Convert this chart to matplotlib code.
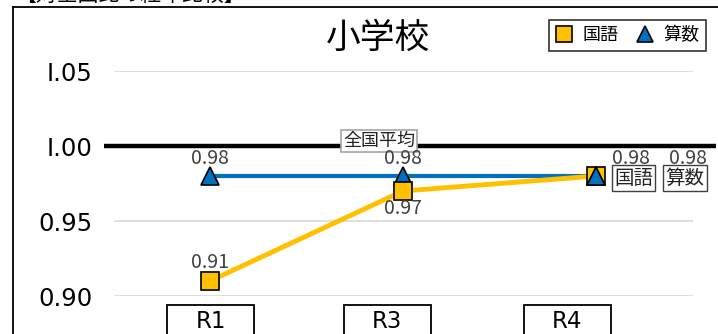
import matplotlib.pyplot as plt
from matplotlib.patches import Rectangle
from matplotlib.lines import Line2D

plt.rcParams['font.family'] = ['Noto Sans CJK JP', 'DejaVu Sans']

# 対全国比（全国平均 = 1.00）
years = ["R1", "R3", "R4"]
kokugo = [0.91, 0.97, 0.98]
sansu = [0.98, 0.98, 0.98]
national = 1.00
yticks = [0.90, 0.95, 1.00, 1.05]

YELLOW = "#FFC000"
BLUE = "#0070C0"
LABEL = "#404040"

W, H = 718, 334
fig = plt.figure(figsize=(W / 100, H / 100), dpi=100)
ax = fig.add_axes([113.5 / W, 38 / H, 579 / W, 225 / H])

x = list(range(len(years)))
ax.set_xlim(-0.5, len(years) - 0.5)
ax.set_ylim(0.90, 1.05)

for t in yticks:
    if t != national:
        ax.axhline(t, color="#D9D9D9", lw=1.2, zorder=0)

# 全国平均ライン
ax.plot([-0.55, 2.62], [national, national], color="black", lw=3.2,
        solid_capstyle="butt", clip_on=False, zorder=2)
ax.text(0.876, national + 0.0033, "全国平均", ha="center", va="center",
        fontsize=13, color="#222222", zorder=6,
        bbox=dict(boxstyle="square,pad=0.1", fc="white", ec="#A6A6A6", lw=1.2))

ax.plot(x, sansu, color=BLUE, lw=3, marker="^", ms=13, mfc=BLUE, mec="black",
        mew=1.2, clip_on=False, zorder=3, label="算数")
ax.plot(x, kokugo, color=YELLOW, lw=3.5, marker="s", ms=13, mfc=YELLOW, mec="black",
        mew=1.2, clip_on=False, zorder=4, label="国語")
# R4 では算数の三角を前面に
ax.plot(x[-1], sansu[-1], marker="^", ms=13, mfc=BLUE, mec="black", mew=1.2,
        ls="none", clip_on=False, zorder=5)

lab = dict(fontsize=14, color=LABEL, ha="center", zorder=6)
# データラベル
ax.annotate(f"{kokugo[0]:.2f}", (x[0], kokugo[0]), xytext=(0, 6),
            textcoords="offset points", va="bottom", **lab)
ax.annotate(f"{kokugo[1]:.2f}", (x[1], kokugo[1]), xytext=(0, -5),
            textcoords="offset points", va="top", **lab)
ax.annotate(f"{sansu[0]:.2f}", (x[0], sansu[0]), xytext=(0, 5),
            textcoords="offset points", va="bottom", **lab)
ax.annotate(f"{sansu[1]:.2f}", (x[1], sansu[1]), xytext=(0, 5),
            textcoords="offset points", va="bottom", **lab)
ax.annotate(f"{kokugo[2]:.2f}", (x[2], kokugo[2]), xytext=(25, 5),
            textcoords="offset points", va="bottom", **lab)
ax.annotate(f"{sansu[2]:.2f}", (x[2], sansu[2]), xytext=(66, 5),
            textcoords="offset points", va="bottom", **lab)
box = dict(boxstyle="square,pad=0.12", fc="white", ec="#404040", lw=1.0)
ax.annotate("国語", (x[2], kokugo[2]), xytext=(27, -1.5), textcoords="offset points",
            va="center", ha="center", fontsize=14, color="#222222", bbox=box, zorder=6)
ax.annotate("算数", (x[2], sansu[2]), xytext=(64, -1.5), textcoords="offset points",
            va="center", ha="center", fontsize=14, color="#222222", bbox=box, zorder=6)

ax.set_yticks(yticks)
ax.set_yticklabels([f"{t:.2f}".replace("1.", "I.") for t in yticks],
                   fontsize=17.5, family=["DejaVu Sans"])
ax.tick_params(axis="y", length=0, pad=15)
ax.set_xticks([])
for s in ax.spines.values():
    s.set_visible(False)

fig.text(378 / W, (H - 38) / H, "小学校", ha="center", va="center", fontsize=25)

leg = ax.legend(handles=[ax.lines[-2], ax.lines[-3]], labels=["国語", "算数"],
                loc="upper right", bbox_to_anchor=(706 / W, (H - 20) / H),
                bbox_transform=fig.transFigure, borderaxespad=0, ncol=2, fontsize=13,
                frameon=True, fancybox=False, edgecolor="black",
                handlelength=0.9, handletextpad=0.6, columnspacing=1.0,
                borderpad=0.35)
for h in leg.legend_handles:
    h.set_linestyle("none")
    h.set_markersize(12)
leg.get_frame().set_linewidth(1.2)

# 年度ラベル（枠付き）
box_centers = [210.5, 387, 567]
for name, cx in zip(years, box_centers):
    fig.patches.append(Rectangle(((cx - 43.5) / W, -0.05), 87 / W, 0.05 + 29 / H,
                                 transform=fig.transFigure, fc="white", ec="black", lw=1.3))
    fig.text(cx / W, 12 / H, name, ha="center", va="center", fontsize=16.5,
             family=["DejaVu Sans"])

# 外枠と見出し
fig.add_artist(Line2D([13 / W, 1.0], [(H - 7) / H] * 2, color="black", lw=1.3))
fig.add_artist(Line2D([13 / W] * 2, [0, (H - 7) / H], color="black", lw=1.3))
fig.text(15 / W, (H - 6) / H, "【対全国比の経年比較】", ha="left", va="bottom", fontsize=15)

fig.savefig("out.png", dpi=100)
